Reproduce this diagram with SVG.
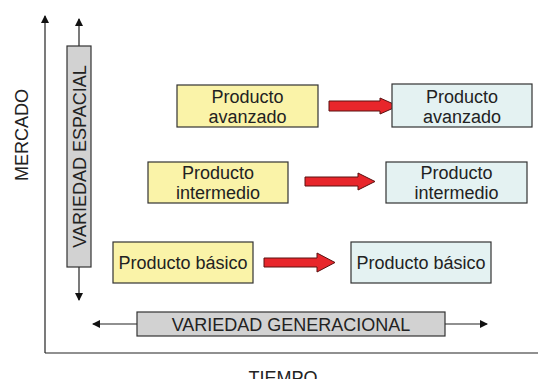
<svg xmlns="http://www.w3.org/2000/svg" width="538" height="379" viewBox="0 0 538 379">
<style>
text{font-family:"Liberation Sans",Arial,sans-serif;fill:#222;}
.y{fill:#faf3a8;stroke:#333;stroke-width:1.2;}
.b{fill:#e4f2f2;stroke:#333;stroke-width:1.2;}
.g{fill:#d2d2d2;stroke:#333;stroke-width:1.2;}
.ln{stroke:#222;stroke-width:1.2;fill:none;}
.ra{fill:#e8262b;stroke:#5a1010;stroke-width:1;}
.t{font-size:18px;text-anchor:middle;}
.l{font-size:18px;text-anchor:middle;}
</style>
<defs>
<marker id="ah" markerWidth="8" markerHeight="8" refX="7" refY="4" orient="auto" markerUnits="userSpaceOnUse">
<path d="M0,0 L8,4 L0,8 Z" fill="#111"/>
</marker>
</defs>
<g id="axes">
<path class="ln" d="M45,353 L45,16" marker-end="url(#ah)"/>
<path class="ln" d="M45,353 L540,353"/>
<text class="l" transform="translate(28,135) rotate(-90)">MERCADO</text>
<text class="l" x="283" y="384">TIEMPO</text>
</g>
<g id="connectors">
<path class="ln" d="M79,46 L79,19" marker-end="url(#ah)"/>
<path class="ln" d="M79,267 L79,300" marker-end="url(#ah)"/>
<path class="ln" d="M137,324 L93,324" marker-end="url(#ah)"/>
<path class="ln" d="M445,324 L487,324" marker-end="url(#ah)"/>
<path class="ra" d="M329,101 L380,101 L380,98 L398,106 L380,114 L380,111 L329,111 Z"/>
<path class="ra" d="M305,177 L358,177 L358,173 L375,181.5 L358,190 L358,186 L305,186 Z"/>
<path class="ra" d="M264,258 L317,258 L317,253 L335,262.5 L317,272 L317,267 L264,267 Z"/>
</g>
<g id="variedad-espacial">
<rect class="g" x="67" y="46" width="24" height="221"/>
<text class="l" transform="translate(85.5,156.5) rotate(-90)">VARIEDAD ESPACIAL</text>
</g>
<g id="variedad-generacional">
<rect class="g" x="137" y="312" width="308" height="24"/>
<text class="l" x="291" y="330.5">VARIEDAD GENERACIONAL</text>
</g>
<g id="y-avanzado">
<rect class="y" x="177" y="85" width="141" height="42"/>
<text class="t" x="247.5" y="103">Producto</text>
<text class="t" x="247.5" y="123">avanzado</text>
</g>
<g id="y-intermedio">
<rect class="y" x="148" y="162" width="140" height="41"/>
<text class="t" x="218" y="179">Producto</text>
<text class="t" x="218" y="199">intermedio</text>
</g>
<g id="y-basico">
<rect class="y" x="113" y="242" width="140" height="41"/>
<text class="t" x="183" y="269">Producto básico</text>
</g>
<g id="b-avanzado">
<rect class="b" x="392" y="84" width="140" height="43"/>
<text class="t" x="462" y="103">Producto</text>
<text class="t" x="462" y="123">avanzado</text>
</g>
<g id="b-intermedio">
<rect class="b" x="386" y="162" width="141" height="41"/>
<text class="t" x="456.5" y="179">Producto</text>
<text class="t" x="456.5" y="199">intermedio</text>
</g>
<g id="b-basico">
<rect class="b" x="351" y="242" width="140" height="41"/>
<text class="t" x="421" y="269">Producto básico</text>
</g>
</svg>
